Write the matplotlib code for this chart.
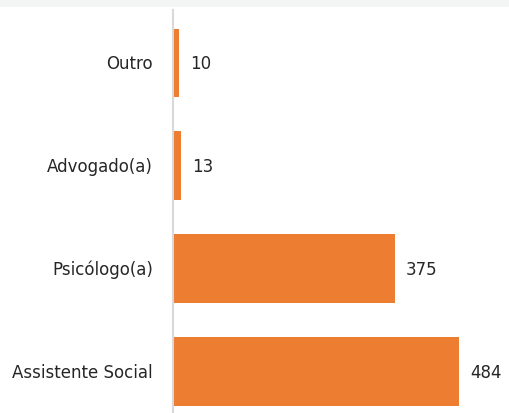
import matplotlib
matplotlib.use("Agg")
import matplotlib.pyplot as plt
from matplotlib.patches import Rectangle

categories = ["Outro", "Advogado(a)", "Psicólogo(a)", "Assistente Social"]
values = [10, 13, 375, 484]

BAR_COLOR = "#ED7D31"
TEXT_COLOR = "#262626"

plt.rcParams["font.family"] = ["DejaVu Sans"]

fig = plt.figure(figsize=(5.09, 4.14), dpi=100)
W, H = 509, 414

# faint band across the very top
fig.patches.append(Rectangle((0, 1 - 8 / H), 1, 8 / H, transform=fig.transFigure,
                             facecolor="#F3F5F4", edgecolor="none", zorder=0))

ax = fig.add_axes([173 / W, 0, (W - 173) / W, (H - 11) / H])
ypos = list(range(len(categories)))
ax.barh(ypos, values, height=0.67, color=BAR_COLOR)

for y, v in zip(ypos, values):
    ax.annotate(f"{v}", xy=(v, y), xytext=(11, 0), textcoords="offset pixels",
                va="center", ha="left", fontsize=12, color=TEXT_COLOR)

ax.set_yticks(ypos)
ax.set_yticklabels(categories, fontsize=12, color=TEXT_COLOR, va="center")
ax.set_ylim(3.40, -0.515)
ax.set_xlim(0, (W - 173) / 0.591)
ax.tick_params(axis="y", length=0, pad=14.5)
ax.set_xticks([])

for side in ["top", "right", "bottom"]:
    ax.spines[side].set_visible(False)
ax.spines["left"].set_color("#D9D9D9")
ax.spines["left"].set_linewidth(1.5)

fig.savefig("out.png", dpi=100)
